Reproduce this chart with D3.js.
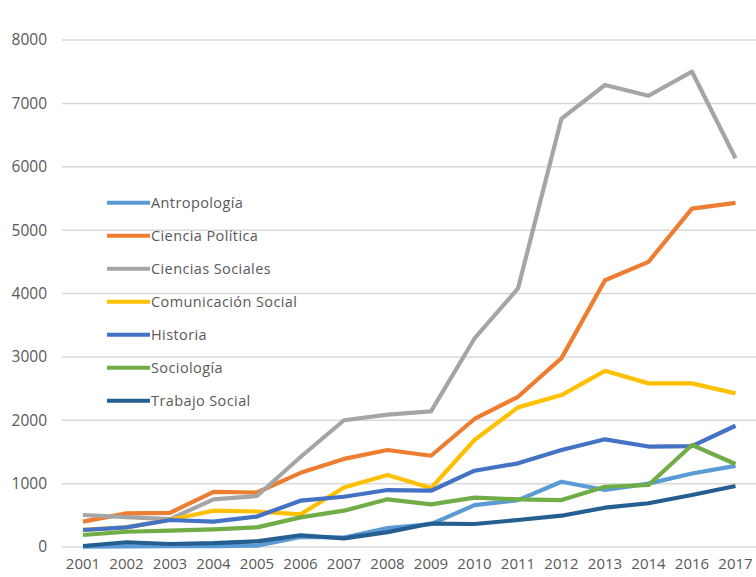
<!DOCTYPE html>
<html><head><meta charset="utf-8">
<script src="https://cdn.jsdelivr.net/npm/d3@7"></script>
<style>
html,body{margin:0;padding:0;background:#fff;}
svg{display:block;}
</style></head>
<body>
<svg id="chart" width="756" height="577"></svg>
<script>
const years = ["2001","2002","2003","2004","2005","2006","2007","2008","2009","2010","2011","2012","2013","2014","2016","2017"];
const yTicks = [0,1000,2000,3000,4000,5000,6000,7000,8000];

const antropologia       = [5, 10, 15, 15, 20, 160, 150, 300, 360, 660, 740, 1030, 900, 1000, 1160, 1280];
const cienciaPolitica    = [400, 530, 540, 870, 860, 1170, 1390, 1530, 1440, 2020, 2370, 2980, 4210, 4500, 5340, 5430];
const cienciasSociales   = [505, 470, 440, 752, 805, 1420, 2000, 2090, 2140, 3290, 4080, 6760, 7290, 7120, 7500, 6135];
const comunicacionSocial = [270, 310, 430, 573, 560, 515, 940, 1136, 930, 1688, 2203, 2397, 2780, 2582, 2582, 2424];
const historia           = [268, 310, 426, 400, 480, 731, 793, 899, 888, 1204, 1320, 1530, 1699, 1585, 1593, 1913];
const sociologia         = [189, 241, 257, 279, 310, 468, 573, 752, 673, 778, 752, 741, 951, 978, 1609, 1309];
const trabajoSocial      = [16, 75, 47, 60, 90, 185, 137, 235, 370, 363, 426, 494, 620, 690, 820, 962];

const seriesNames = ["Antropología","Ciencia Política","Ciencias Sociales","Comunicación Social","Historia","Sociología","Trabajo Social"];
const seriesValues = [antropologia, cienciaPolitica, cienciasSociales, comunicacionSocial, historia, sociologia, trabajoSocial];
const seriesColors = ["#5B9BD5","#ED7D31","#A5A5A5","#FFC000","#4472C4","#70AD47","#255E91"];

const svg = d3.select("#chart");
const x = d3.scaleBand().domain(years).range([61.25, 757.25]);
const y = d3.scaleLinear().domain([0, 8000]).range([547, 40]);
const cx = d => x(d) + x.bandwidth() / 2;

// gridlines
svg.append("g").selectAll("line").data(yTicks).join("line")
  .attr("x1", 62).attr("x2", 756)
  .attr("y1", d => y(d)).attr("y2", d => y(d))
  .attr("stroke", "#d9d9d9").attr("stroke-width", 1.5);

// y axis labels
const yAxis = d3.axisLeft(y).tickValues(yTicks).tickSize(0).tickPadding(0).tickFormat(d3.format("d"));
const gy = svg.append("g").attr("transform", "translate(47,0)").call(yAxis);
gy.select(".domain").remove();
gy.selectAll("text").attr("font-family", "Open Sans, sans-serif").attr("font-size", 15.5).attr("fill", "#595959");

// x axis labels
const xAxis = d3.axisBottom(x).tickSize(0).tickPadding(0);
const gx = svg.append("g").attr("transform", "translate(0,558)").call(xAxis);
gx.select(".domain").remove();
gx.selectAll("text").attr("font-family", "Open Sans, sans-serif").attr("font-size", 15).attr("fill", "#595959");

// lines
const line = d3.line().x((d, i) => cx(years[i])).y(d => y(d));
svg.append("g").selectAll("path").data(seriesValues).join("path")
  .attr("d", d => line(d))
  .attr("fill", "none")
  .attr("stroke", (d, i) => seriesColors[i])
  .attr("stroke-width", 4.2)
  .attr("stroke-linejoin", "round");

// legend
const leg = svg.append("g").selectAll("g").data(seriesNames).join("g")
  .attr("transform", (d, i) => `translate(107,${202.7 + i * 33})`);
leg.append("line").attr("x1", 0).attr("x2", 43).attr("y1", 0).attr("y2", 0)
  .attr("stroke", (d, i) => seriesColors[i]).attr("stroke-width", 4);
leg.append("text").attr("x", 44).attr("y", 0).attr("dy", "0.35em")
  .attr("font-family", "Open Sans, sans-serif").attr("font-size", 14.5)
  .attr("letter-spacing", 0.4)
  .attr("fill", "#595959").text(d => d);
</script>
</body></html>
